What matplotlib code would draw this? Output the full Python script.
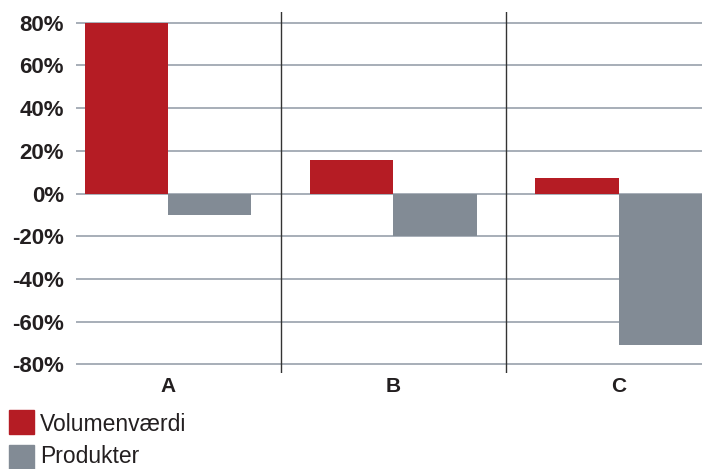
import matplotlib.pyplot as plt
import matplotlib.patches as mpatches
import numpy as np

categories = ["A", "B", "C"]
volumen = [80, 15.5, 7.3]
produkter = [-10, -20, -71]
yticks = [-80, -60, -40, -20, 0, 20, 40, 60, 80]
series_names = ["Volumenværdi", "Produkter"]

red = "#b51c24"
grey = "#828b95"
plt.rcParams['font.family'] = ['Liberation Sans', 'DejaVu Sans']

W, H = 702, 469
fig = plt.figure(figsize=(W / 100, H / 100), dpi=100)
ax = fig.add_axes([76 / W, 1 - 373 / H, 1 - 76 / W, (373 - 12) / H])

x = np.arange(len(categories))
bw = 0.37
ax.bar(x - bw / 2, volumen, bw, color=red, zorder=3)
ax.bar(x + bw / 2, produkter, bw, color=grey, zorder=3)

ax.set_xlim(-0.408, 2.37)
ax.set_ylim(-84, 85)
for y in yticks:
    ax.axhline(y, color="#98a1ab", lw=1.2, zorder=1)
for sep in [0.5, 1.5]:
    ax.axvline(sep, color="#333333", lw=1, zorder=4)

ax.set_yticks(yticks)
ax.set_yticklabels([f"{v}%" for v in yticks], fontsize=16, fontweight="bold", color="#231f20")
ax.set_xticks(x)
ax.set_xticklabels(categories, fontsize=15, fontweight="bold", color="#231f20")
ax.tick_params(length=0)
ax.tick_params(axis="y", pad=8.6)
ax.tick_params(axis="x", pad=3)
for s in ax.spines.values():
    s.set_visible(False)

# legend
for i, (name, c) in enumerate(zip(series_names, [red, grey])):
    top = 410 + i * 35
    fig.patches.append(mpatches.Rectangle((9 / W, 1 - (top + 24) / H), 25 / W, 24 / H,
                                          transform=fig.transFigure, color=c))
    fig.text(40 / W, 1 - (436 + i * 32) / H, name, fontsize=16.5, va="bottom",
             color="#231f20")

fig.savefig("out.png", dpi=100)
